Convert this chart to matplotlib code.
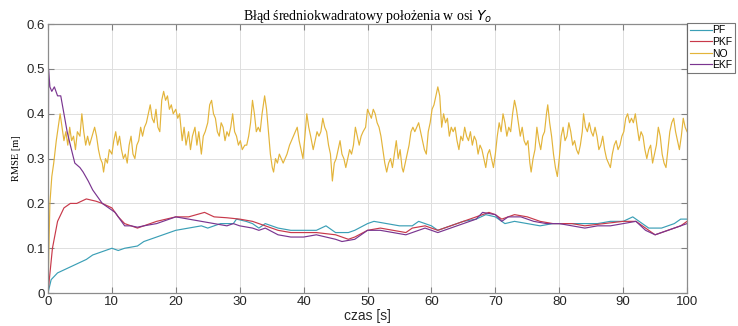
import numpy as np
import matplotlib
matplotlib.use("Agg")
import matplotlib.pyplot as plt

# Dane (czas [s], RMSE [m])
no_t = [0.0, 0.3, 0.6, 0.9, 1.3, 1.6, 1.9, 2.2, 2.5, 2.8, 3.1, 3.4, 3.7, 4.0, 4.3, 4.6, 5.0, 5.3, 5.6, 5.9,
        6.2, 6.5, 6.9, 7.3, 7.6, 7.9, 8.2, 8.5, 8.7, 9.0, 9.3, 9.6, 10.0, 10.3, 10.6, 10.9, 11.2, 11.5, 11.8, 12.1,
        12.4, 12.7, 13.0, 13.3, 13.6, 13.9, 14.2, 14.5, 14.8, 15.1, 15.4, 15.7, 16.0, 16.3, 16.6, 16.9, 17.2, 17.5, 17.8, 18.1,
        18.4, 18.7, 19.0, 19.3, 19.6, 20.0, 20.3, 20.6, 21.0, 21.3, 21.6, 22.0, 22.3, 22.6, 23.0, 23.3, 23.6, 24.0, 24.3, 24.6,
        25.0, 25.3, 25.6, 25.9, 26.2, 26.5, 26.8, 27.1, 27.4, 27.7, 28.0, 28.3, 28.6, 28.9, 29.2, 29.5, 29.8, 30.1, 30.4, 30.8,
        31.1, 31.4, 31.7, 32.0, 32.3, 32.6, 32.9, 33.2, 33.5, 33.9, 34.2, 34.5, 34.8, 35.1, 35.3, 35.6, 35.9, 36.2, 36.5, 36.8,
        37.1, 37.4, 37.8, 38.1, 38.4, 38.7, 39.0, 39.3, 39.6, 39.9, 40.2, 40.5, 40.8, 41.1, 41.5, 41.8, 42.1, 42.4, 42.7, 43.0,
        43.3, 43.6, 43.9, 44.2, 44.5, 44.8, 45.1, 45.4, 45.7, 46.0, 46.3, 46.6, 46.9, 47.2, 47.5, 47.8, 48.1, 48.4, 48.7, 49.0,
        49.3, 49.7, 50.0, 50.3, 50.6, 50.9, 51.2, 51.5, 51.8, 52.1, 52.4, 52.7, 53.0, 53.3, 53.6, 53.9, 54.2, 54.5, 54.8, 55.1,
        55.4, 55.6, 55.9, 56.2, 56.5, 56.8, 57.1, 57.4, 57.7, 58.0, 58.3, 58.6, 58.9, 59.2, 59.5, 59.8, 60.1, 60.4, 60.7, 61.0,
        61.3, 61.6, 61.9, 62.2, 62.5, 62.8, 63.1, 63.4, 63.7, 64.0, 64.3, 64.6, 64.9, 65.2, 65.5, 65.8, 66.1, 66.4, 66.7, 67.0,
        67.3, 67.6, 67.9, 68.2, 68.5, 68.8, 69.1, 69.4, 69.7, 70.0, 70.3, 70.6, 70.9, 71.2, 71.5, 71.8, 72.1, 72.4, 72.7, 73.0,
        73.3, 73.6, 73.9, 74.2, 74.5, 74.8, 75.1, 75.4, 75.6, 75.9, 76.2, 76.5, 76.8, 77.1, 77.4, 77.7, 78.0, 78.2, 78.5, 78.8,
        79.1, 79.4, 79.7, 80.0, 80.3, 80.6, 80.9, 81.2, 81.5, 81.8, 82.1, 82.4, 82.7, 83.0, 83.3, 83.6, 83.8, 84.1, 84.4, 84.7,
        85.0, 85.3, 85.6, 85.9, 86.2, 86.5, 86.8, 87.1, 87.4, 87.7, 88.0, 88.3, 88.6, 88.9, 89.2, 89.5, 89.8, 90.1, 90.4, 90.7,
        91.0, 91.3, 91.6, 91.9, 92.2, 92.5, 92.8, 93.1, 93.4, 93.7, 94.0, 94.3, 94.6, 94.9, 95.2, 95.5, 95.8, 96.1, 96.4, 96.7,
        97.0, 97.3, 97.6, 97.9, 98.2, 98.5, 98.8, 99.1, 99.4, 99.7, 100.0]
no_v = [0.00, 0.20, 0.26, 0.29, 0.34, 0.37, 0.40, 0.37, 0.34, 0.36, 0.33, 0.37, 0.34, 0.35, 0.32, 0.36, 0.35, 0.40, 0.36, 0.33,
        0.35, 0.33, 0.35, 0.37, 0.35, 0.32, 0.30, 0.29, 0.27, 0.30, 0.29, 0.32, 0.31, 0.34, 0.36, 0.33, 0.35, 0.32, 0.30, 0.31,
        0.29, 0.33, 0.35, 0.31, 0.30, 0.33, 0.34, 0.37, 0.35, 0.37, 0.38, 0.40, 0.42, 0.39, 0.38, 0.41, 0.37, 0.36, 0.43, 0.45,
        0.43, 0.44, 0.41, 0.42, 0.40, 0.41, 0.39, 0.40, 0.34, 0.37, 0.33, 0.36, 0.32, 0.35, 0.37, 0.33, 0.36, 0.31, 0.35, 0.36,
        0.38, 0.42, 0.43, 0.40, 0.39, 0.36, 0.35, 0.38, 0.37, 0.34, 0.36, 0.35, 0.37, 0.40, 0.36, 0.35, 0.33, 0.34, 0.32, 0.33,
        0.33, 0.35, 0.38, 0.43, 0.40, 0.36, 0.37, 0.36, 0.40, 0.44, 0.41, 0.36, 0.31, 0.28, 0.27, 0.30, 0.29, 0.31, 0.30, 0.29,
        0.30, 0.31, 0.33, 0.34, 0.35, 0.36, 0.37, 0.34, 0.32, 0.30, 0.35, 0.40, 0.37, 0.35, 0.32, 0.34, 0.36, 0.35, 0.36, 0.39,
        0.37, 0.36, 0.33, 0.31, 0.25, 0.29, 0.30, 0.32, 0.34, 0.31, 0.30, 0.28, 0.30, 0.32, 0.31, 0.33, 0.37, 0.35, 0.33, 0.35,
        0.36, 0.37, 0.41, 0.40, 0.39, 0.41, 0.40, 0.38, 0.37, 0.35, 0.32, 0.29, 0.27, 0.29, 0.30, 0.28, 0.31, 0.34, 0.30, 0.32,
        0.28, 0.27, 0.29, 0.31, 0.33, 0.36, 0.37, 0.36, 0.37, 0.38, 0.36, 0.34, 0.32, 0.31, 0.36, 0.38, 0.41, 0.42, 0.44, 0.46,
        0.44, 0.37, 0.40, 0.38, 0.39, 0.35, 0.37, 0.36, 0.37, 0.34, 0.32, 0.35, 0.34, 0.37, 0.35, 0.34, 0.36, 0.33, 0.35, 0.34,
        0.31, 0.33, 0.32, 0.30, 0.28, 0.31, 0.32, 0.30, 0.28, 0.31, 0.35, 0.38, 0.36, 0.40, 0.38, 0.35, 0.37, 0.36, 0.40, 0.43,
        0.41, 0.38, 0.35, 0.37, 0.34, 0.33, 0.34, 0.29, 0.27, 0.30, 0.32, 0.37, 0.34, 0.32, 0.35, 0.36, 0.40, 0.42, 0.38, 0.35,
        0.31, 0.28, 0.26, 0.30, 0.35, 0.37, 0.34, 0.35, 0.38, 0.36, 0.33, 0.34, 0.32, 0.31, 0.33, 0.36, 0.40, 0.37, 0.36, 0.38,
        0.36, 0.35, 0.37, 0.35, 0.32, 0.33, 0.35, 0.32, 0.30, 0.29, 0.28, 0.31, 0.33, 0.34, 0.32, 0.33, 0.35, 0.36, 0.39, 0.40,
        0.38, 0.39, 0.38, 0.40, 0.37, 0.34, 0.36, 0.35, 0.32, 0.30, 0.32, 0.33, 0.29, 0.31, 0.33, 0.37, 0.35, 0.31, 0.29, 0.28,
        0.32, 0.36, 0.38, 0.39, 0.36, 0.34, 0.32, 0.35, 0.39, 0.37, 0.36]

ekf_t = [0, 0.1, 0.3, 0.6, 1.0, 1.5, 2.0, 2.5, 3.0, 3.5, 4.2, 5.0, 5.5, 6.3, 7.0, 8.0, 8.5, 9.5, 10.5, 11.0,
         12.0, 13.0, 14.0, 15.0, 17.0, 18.0, 20.0, 22.0, 24.0, 26.0, 28.0, 29.0, 30.0, 32.0, 33.0, 34.0, 36.0, 38.0, 40.0, 42.0,
         45.0, 46.0, 48.0, 50.0, 52.0, 54.0, 56.0, 57.0, 58.0, 59.0, 61.0, 63.0, 65.0, 67.0, 68.0, 70.0, 71.0, 72.0, 74.0, 76.0,
         78.0, 80.0, 82.0, 84.0, 86.0, 88.0, 90.0, 92.0, 93.5, 95.0, 96.0, 98.0, 100.0]
ekf_v = [0, 0.50, 0.46, 0.45, 0.46, 0.44, 0.44, 0.40, 0.36, 0.33, 0.29, 0.28, 0.27, 0.25, 0.23, 0.21, 0.20, 0.19, 0.18, 0.17,
         0.15, 0.15, 0.147, 0.15, 0.155, 0.16, 0.17, 0.165, 0.16, 0.155, 0.15, 0.155, 0.15, 0.145, 0.14, 0.145, 0.13, 0.125, 0.125, 0.13,
         0.12, 0.115, 0.12, 0.14, 0.14, 0.135, 0.13, 0.135, 0.14, 0.145, 0.135, 0.145, 0.155, 0.165, 0.18, 0.175, 0.16, 0.17, 0.17, 0.16,
         0.155, 0.155, 0.15, 0.145, 0.15, 0.15, 0.155, 0.16, 0.14, 0.13, 0.135, 0.145, 0.155]

pkf_t = [0, 0.7, 1.5, 2.5, 3.5, 4.5, 6.0, 7.5, 8.5, 10.0, 11.0, 12.0, 14.0, 15.0, 17.0, 20.0, 22.0, 24.5, 26.0, 28.0,
         30.0, 32.0, 34.0, 36.0, 38.0, 40.0, 42.0, 45.0, 47.0, 48.0, 50.0, 52.0, 54.0, 56.0, 57.0, 59.0, 61.0, 63.0, 65.0, 67.0,
         69.0, 70.0, 71.0, 73.0, 75.0, 77.0, 79.0, 82.0, 84.0, 87.0, 90.0, 92.0, 94.0, 95.0, 97.0, 99.0, 100.0]
pkf_v = [0, 0.10, 0.16, 0.19, 0.20, 0.20, 0.21, 0.205, 0.20, 0.19, 0.17, 0.155, 0.145, 0.15, 0.16, 0.17, 0.17, 0.18, 0.17, 0.168,
         0.165, 0.16, 0.15, 0.14, 0.135, 0.135, 0.135, 0.13, 0.12, 0.125, 0.14, 0.145, 0.14, 0.135, 0.145, 0.15, 0.14, 0.15, 0.16, 0.17,
         0.18, 0.175, 0.165, 0.175, 0.17, 0.16, 0.155, 0.155, 0.15, 0.155, 0.16, 0.16, 0.14, 0.13, 0.14, 0.15, 0.16]

pf_t = [0, 0.5, 1.5, 3.0, 4.5, 6.0, 7.0, 9.0, 10.0, 11.0, 12.0, 14.0, 15.0, 17.0, 19.0, 20.0, 22.0, 24.0, 25.0, 27.0,
        29.0, 29.5, 31.0, 32.0, 33.0, 34.0, 36.0, 38.0, 40.0, 42.0, 43.5, 45.0, 47.0, 48.0, 50.0, 51.0, 53.0, 55.0, 57.0, 58.0,
        60.0, 61.0, 63.0, 65.0, 67.0, 68.5, 70.0, 71.5, 73.0, 75.0, 77.0, 79.0, 82.0, 84.0, 86.0, 88.0, 90.0, 91.5, 92.5, 94.0,
        96.0, 98.0, 99.0, 100.0]
pf_v = [0, 0.03, 0.045, 0.055, 0.065, 0.075, 0.085, 0.095, 0.10, 0.095, 0.10, 0.105, 0.115, 0.125, 0.135, 0.14, 0.145, 0.15, 0.145, 0.155,
        0.155, 0.165, 0.16, 0.155, 0.145, 0.155, 0.145, 0.14, 0.14, 0.14, 0.15, 0.135, 0.135, 0.14, 0.155, 0.16, 0.155, 0.15, 0.15, 0.16,
        0.15, 0.14, 0.15, 0.16, 0.165, 0.175, 0.17, 0.155, 0.16, 0.155, 0.15, 0.155, 0.155, 0.155, 0.155, 0.16, 0.16, 0.17, 0.16, 0.145,
        0.145, 0.155, 0.165, 0.165]

x_ticks = [0, 10, 20, 30, 40, 50, 60, 70, 80, 90, 100]
y_ticks = [0, 0.1, 0.2, 0.3, 0.4, 0.5, 0.6]

fig = plt.figure(figsize=(7.38, 3.26), dpi=100)
ax = fig.add_axes([0.065, 0.101, 0.866, 0.825])

ax.plot(pf_t, pf_v, color="#3b9fb6", lw=0.85, label="PF")
ax.plot(pkf_t, pkf_v, color="#c8394a", lw=0.85, label="PKF")
ax.plot(no_t, no_v, color="#e3b43a", lw=0.85, label="NO")
ax.plot(ekf_t, ekf_v, color="#7a3590", lw=0.85, label="EKF")

ax.set_xlim(0, 100)
ax.set_ylim(0, 0.6)
ax.set_xticks(x_ticks)
ax.set_yticks(y_ticks)
ax.set_yticklabels(["0", "0.1", "0.2", "0.3", "0.4", "0.5", "0.6"])
ax.grid(True, color="#dedede", lw=0.7)
ax.tick_params(direction="in", top=True, right=True, length=4, color="#808080",
               labelsize=9.5, labelcolor="#262626", pad=2)
for lab in ax.get_xticklabels() + ax.get_yticklabels():
    lab.set_family("Liberation Sans")
for s in ax.spines.values():
    s.set_color("#8c8c8c")
    s.set_linewidth(0.9)

ax.set_title(r"Błąd średniokwadratowy położenia w osi $Y_o$", family="Liberation Serif",
             fontsize=10, pad=3)
ax.set_xlabel("czas [s]", family="Liberation Sans", fontsize=10, color="#262626", labelpad=1)
ax.set_ylabel("RMSE [m]", family="Liberation Serif", fontsize=7.5, labelpad=4)

# legenda poza osiami, po prawej (ucięta ramka jak w oryginale)
leg = ax.legend(loc="upper left", bbox_to_anchor=(1.0, 1.005), prop={"family": "Liberation Sans", "size": 7.5},
                frameon=True, fancybox=False, edgecolor="#555555", handlelength=2.1, handletextpad=0.1,
                labelspacing=0.15, borderpad=0.25, borderaxespad=0)
leg.get_frame().set_linewidth(0.8)

fig.savefig("out.png", dpi=100)
